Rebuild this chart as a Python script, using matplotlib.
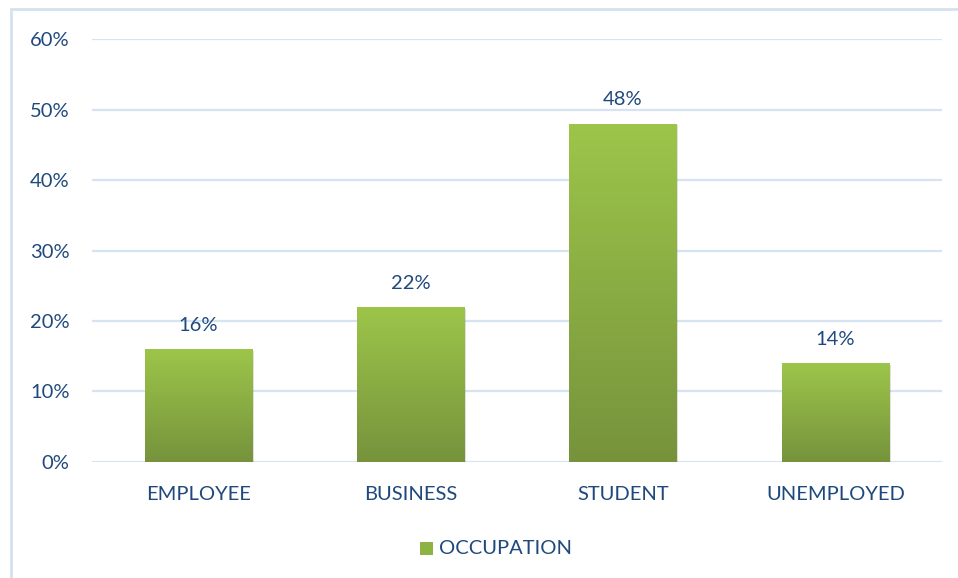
import numpy as np
import matplotlib.pyplot as plt
from matplotlib.patches import Rectangle
from matplotlib.colors import LinearSegmentedColormap

categories = ["EMPLOYEE", "BUSINESS", "STUDENT", "UNEMPLOYED"]
values = [16, 22, 48, 14]
y_ticks = [0, 10, 20, 30, 40, 50, 60]
series_name = "OCCUPATION"

text_color = "#1F497D"
grid_color = "#D6E3F3"
green_top = "#9DC54A"
green_bottom = "#76933C"
fs = 14.5

plt.rcParams['font.family'] = ['Lato', 'DejaVu Sans']

fig = plt.figure(figsize=(9.58, 5.78), dpi=100)
ax = fig.add_axes([0.096, 0.2007, 0.887, 0.7318])

# chart border
fig.patches.append(Rectangle((11 / 958, -0.05), 1.1, 1 - 9 / 578 + 0.05,
                             transform=fig.transFigure, fill=False,
                             edgecolor="#D6E1F0", linewidth=2))

x = np.arange(len(categories))
bars = ax.bar(x, values, width=0.505, color=green_top, zorder=3)

cmap = LinearSegmentedColormap.from_list("g", [green_bottom, green_top])
grad = np.linspace(0, 1, 256).reshape(-1, 1)
for b in bars:
    bx, by = b.get_x(), b.get_y()
    w, h = b.get_width(), b.get_height()
    # soft shadow
    sh = Rectangle((bx + 0.008, by - 0.25), w, h, facecolor="#000000",
                   alpha=0.12, zorder=2, linewidth=0)
    ax.add_patch(sh)
    im = ax.imshow(grad, cmap=cmap, origin="lower", aspect="auto",
                   extent=[bx, bx + w, by, by + h], zorder=4)
    im.set_clip_path(b)

for xi, v in zip(x, values):
    ax.annotate(f"{v}%", (xi, v), xytext=(0, 17), textcoords="offset points",
                ha="center", va="center", fontsize=fs, color=text_color)

ax.set_xlim(-0.5, len(categories) - 0.5)
ax.set_ylim(0, 60)
ax.set_yticks(y_ticks)
ax.set_yticklabels([f"{t}%" for t in y_ticks])
ax.set_xticks(x)
ax.set_xticklabels(categories)
ax.tick_params(axis="both", length=0, labelsize=fs, labelcolor=text_color)
ax.tick_params(axis="y", pad=16)
ax.tick_params(axis="x", pad=17)
ax.yaxis.grid(True, color=grid_color, linewidth=1.6, zorder=0)
ax.set_axisbelow(True)
for s in ax.spines.values():
    s.set_visible(False)

# legend
fig.patches.append(Rectangle((420 / 958, 1 - 555 / 578), 13 / 958, 13 / 578,
                             transform=fig.transFigure, facecolor="#8DB443",
                             edgecolor="none"))
fig.text(439 / 958, 1 - 548 / 578, series_name, fontsize=fs,
         color=text_color, va="center", ha="left")

fig.savefig("out.png", dpi=100)
